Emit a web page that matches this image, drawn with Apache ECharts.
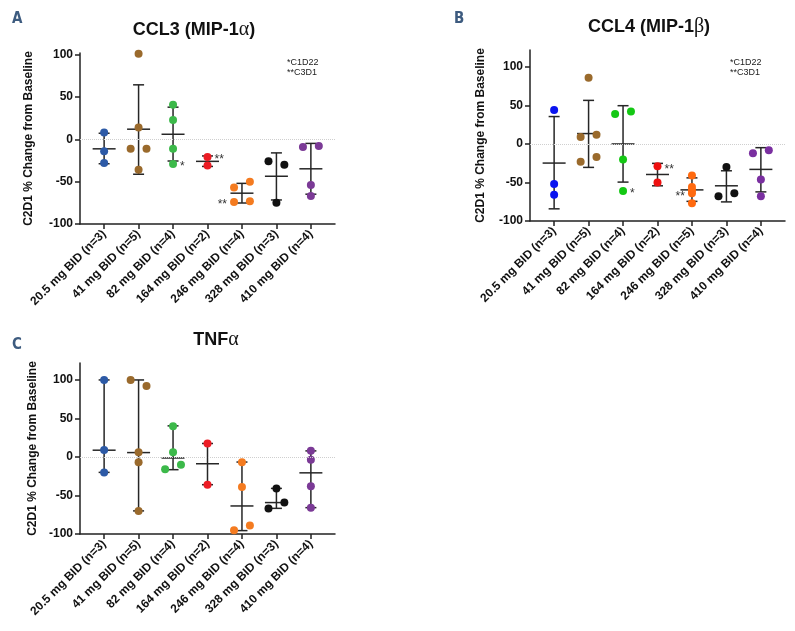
<!DOCTYPE html>
<html><head><meta charset="utf-8">
<script src="https://cdn.jsdelivr.net/npm/echarts@6.0.0/dist/echarts.min.js"></script>
<style>html,body{margin:0;padding:0;background:#fff}#c{width:795px;height:631px}</style>
</head><body><div id="c"></div>
<script>
// ---------- DATA ----------
const catsAC = ['20.5 mg BID (n=3)', '41 mg BID (n=5)', '82 mg BID (n=4)', '164 mg BID (n=2)', '246 mg BID (n=4)', '328 mg BID (n=3)', '410 mg BID (n=4)'];
const catsB  = ['20.5 mg BID (n=3)', '41 mg BID (n=5)', '82 mg BID (n=4)', '164 mg BID (n=2)', '246 mg BID (n=5)', '328 mg BID (n=3)', '410 mg BID (n=4)'];
const yTickValues = [-100, -50, 0, 50, 100];

// Panel A: CCL3 (MIP-1α), mean ± SD
const ccl3Values = [[8, -14, -28], [101, 14, -11, -11, -36], [41, 23, -11, -29], [-21, -31], [-57, -50, -74, -73], [-26, -30, -75], [-9, -8, -54, -67]];
const ccl3Mean = [-11.2, 12, 6, -26, -63.6, -43.6, -34.8];
const ccl3Low  = [-28.8, -41.2, -25.6, -32, -75.2, -71.6, -64.8];
const ccl3High = [7.2, 64.4, 38, -19.6, -52, -16, -4.8];

// Panel B: CCL4 (MIP-1β), mean ± SD
const ccl4Values = [[44, -52, -66], [86, 9, 12, -23, -17], [39, 42, -20, -61], [-29, -50], [-41, -56, -60, -64, -77], [-30, -68, -64], [-12, -8, -46, -68]];
const ccl4Mean = [-24.8, 13.5, 0, -39.6, -59.6, -54.3, -33];
const ccl4Low  = [-84.2, -30.4, -49.5, -54.3, -74.5, -75.2, -62.2];
const ccl4High = [35.6, 56.6, 49.7, -25.2, -44, -34.8, -4.8];

// Panel C: TNFα, median with range
const tnfValues = [[100, 9, -20], [100, 92, 6, -7, -70], [40, 6, -16, -10], [17.5, -36], [-7, -39, -95, -89], [-41, -67, -59], [8, -3.5, -38, -66]];
const tnfMedian = [8.8, 5.7, -1.3, -8.8, -63.6, -59.2, -20.6];
const tnfLow    = [-20, -70, -16.5, -36, -95.6, -66.7, -65.8];
const tnfHigh   = [100, 100, 40.4, 17.5, -6.6, -40.8, 7.9];

// Timepoint markers: [group, point index, text, side]
const notesA = [[2, 3, '*', 'right'], [3, 0, '**', 'right'], [4, 2, '**', 'left']];
const notesB = [[2, 3, '*', 'right'], [3, 0, '**', 'right'], [4, 3, '**', 'left']];
const notesC = [];

const colorsAC = ['#2d5aa6', '#9a6a2c', '#3cb94a', '#ec1c24', '#f47b20', '#111111', '#7b3a96'];
const colorsB  = ['#0a14f0', '#9a6a2c', '#14c814', '#ee1010', '#ff6a10', '#111111', '#7a2fa0'];

// ---------- CHART ----------
const FONT = '"Liberation Sans", Arial, Helvetica, sans-serif';
const panels = [
  {values: ccl3Values, center: ccl3Mean, low: ccl3Low, high: ccl3High, cats: catsAC, colors: colorsAC, notes: notesA,
   grid: {left: 80, top: 53, width: 255, height: 171}, yMax: 102, nameGap: 45},
  {values: ccl4Values, center: ccl4Mean, low: ccl4Low, high: ccl4High, cats: catsB, colors: colorsB, notes: notesB,
   grid: {left: 530, top: 50, width: 255, height: 171}, yMax: 122, nameGap: 43},
  {values: tnfValues, center: tnfMedian, low: tnfLow, high: tnfHigh, cats: catsAC, colors: colorsAC, notes: notesC,
   grid: {left: 80, top: 363, width: 255, height: 171}, yMax: 122, nameGap: 41}
];

const JIT = 0.23;
function jitterOffsets(vals, pxPerUnit) {
  const thr = 7.5 / pxPerUnit;
  const idx = vals.map((v, i) => i).sort((a, b) => vals[a] - vals[b]);
  const off = vals.map(() => 0);
  let cluster = [idx[0]];
  const flush = () => {
    if (cluster.length === 2) {
      const s = cluster.slice().sort((a, b) => a - b);
      off[s[0]] = -JIT; off[s[1]] = JIT;
    }
  };
  for (let k = 1; k < idx.length; k++) {
    if (vals[idx[k]] - vals[idx[k - 1]] < thr) cluster.push(idx[k]);
    else { flush(); cluster = [idx[k]]; }
  }
  flush();
  return off;
}

function errRender(params, api) {
  const x = api.value(0);
  const pc = api.coord([x, api.value(1)]);
  const pl = api.coord([x, api.value(2)]);
  const ph = api.coord([x, api.value(3)]);
  const capW = 5.5, midW = 11.5;
  const st = {stroke: '#262626', lineWidth: 1.5};
  return {type: 'group', children: [
    {type: 'line', shape: {x1: pl[0], y1: pl[1], x2: ph[0], y2: ph[1]}, style: st},
    {type: 'line', shape: {x1: pl[0] - capW, y1: pl[1], x2: pl[0] + capW, y2: pl[1]}, style: st},
    {type: 'line', shape: {x1: ph[0] - capW, y1: ph[1], x2: ph[0] + capW, y2: ph[1]}, style: st},
    {type: 'line', shape: {x1: pc[0] - midW, y1: pc[1], x2: pc[0] + midW, y2: pc[1]}, style: st}
  ]};
}

const grids = [], xAxes = [], yAxes = [], series = [];
panels.forEach((p, i) => {
  grids.push(Object.assign({containLabel: false}, p.grid));
  const catTicks = p.cats.map((c, k) => k + 1);
  const axisLine = {show: true, onZero: false, lineStyle: {color: '#222', width: 1.5}};
  xAxes.push({
    type: 'value', gridIndex: i, min: 0.3, max: 7.7,
    axisLine: axisLine,
    axisTick: {show: true, length: 5, customValues: catTicks, lineStyle: {color: '#222', width: 1.5}},
    axisLabel: {customValues: catTicks, rotate: 45, margin: 8, formatter: v => p.cats[Math.round(v) - 1],
      fontFamily: FONT, fontWeight: 'bold', fontSize: 12, color: '#111'},
    splitLine: {show: false}
  });
  yAxes.push({
    type: 'value', gridIndex: i, min: -100, max: p.yMax,
    name: 'C2D1 % Change from Baseline', nameLocation: 'middle', nameRotate: 90, nameGap: p.nameGap,
    nameTextStyle: {fontFamily: FONT, fontWeight: 'bold', fontSize: 12, color: '#111'},
    axisLine: axisLine,
    axisTick: {show: true, length: 5, customValues: yTickValues, lineStyle: {color: '#222', width: 1.5}},
    axisLabel: {customValues: yTickValues, margin: 7, fontFamily: FONT, fontWeight: 'bold', fontSize: 12, color: '#111'},
    splitLine: {show: false}
  });
  const pxPerUnit = p.grid.height / (p.yMax + 100);
  const pts = [];
  p.values.forEach((vals, g) => {
    const off = jitterOffsets(vals, pxPerUnit);
    vals.forEach((v, k) => {
      const item = {value: [g + 1 + off[k], v], itemStyle: {color: p.colors[g], opacity: 1}};
      const note = p.notes.find(n => n[0] === g && n[1] === k);
      if (note) {
        item.label = {show: true, formatter: note[2], position: note[3], distance: 3, offset: [0, 3],
          fontFamily: FONT, fontSize: 12, color: '#333'};
      }
      pts.push(item);
    });
  });
  series.push({
    type: 'custom', xAxisIndex: i, yAxisIndex: i, z: 2, silent: true,
    encode: {x: 0, y: [1, 2, 3]},
    data: p.center.map((c, k) => [k + 1, c, p.low[k], p.high[k]]),
    renderItem: errRender,
    markLine: {silent: true, symbol: 'none', label: {show: false},
      lineStyle: {type: 'dotted', color: '#cfcfcf', width: 1}, data: [{yAxis: 0}]}
  });
  series.push({type: 'scatter', xAxisIndex: i, yAxisIndex: i, z: 3, symbolSize: 8,
    itemStyle: {opacity: 1}, data: pts});
});

const titleBase = {textAlign: 'center', textStyle: {fontFamily: FONT, fontWeight: 'bold', fontSize: 18, color: '#111',
  rich: {g: {fontFamily: '"Liberation Serif", "DejaVu Serif", serif', fontWeight: 'normal', fontSize: 20, color: '#111'}}}};
const titles = [
  Object.assign({text: 'CCL3 (MIP-1{g|α})', left: 189, top: 15}, titleBase),
  Object.assign({text: 'CCL4 (MIP-1{g|β})', left: 644, top: 12}, titleBase),
  Object.assign({text: 'TNF{g|α}', left: 211, top: 325}, titleBase)
];

const letterFont = 'bold 15px "DejaVu Sans Condensed", "DejaVu Sans", sans-serif';
const noteFont = '9px ' + FONT;
const graphics = [
  {type: 'text', left: 12, top: 12, style: {text: 'A', font: letterFont, fill: '#3d5b7f'}},
  {type: 'text', left: 454, top: 12, style: {text: 'B', font: letterFont, fill: '#3d5b7f'}},
  {type: 'text', left: 12, top: 338, style: {text: 'C', font: letterFont, fill: '#3d5b7f'}},
  {type: 'text', left: 287, top: 57, style: {text: '*C1D22\n**C3D1', font: noteFont, lineHeight: 10.5, fill: '#222'}},
  {type: 'text', left: 730, top: 57, style: {text: '*C1D22\n**C3D1', font: noteFont, lineHeight: 10.5, fill: '#222'}}
];

const chart = echarts.init(document.getElementById('c'));
chart.setOption({
  backgroundColor: '#fff', animation: false,
  title: titles, grid: grids, xAxis: xAxes, yAxis: yAxes, series: series, graphic: graphics
});
</script></body></html>
